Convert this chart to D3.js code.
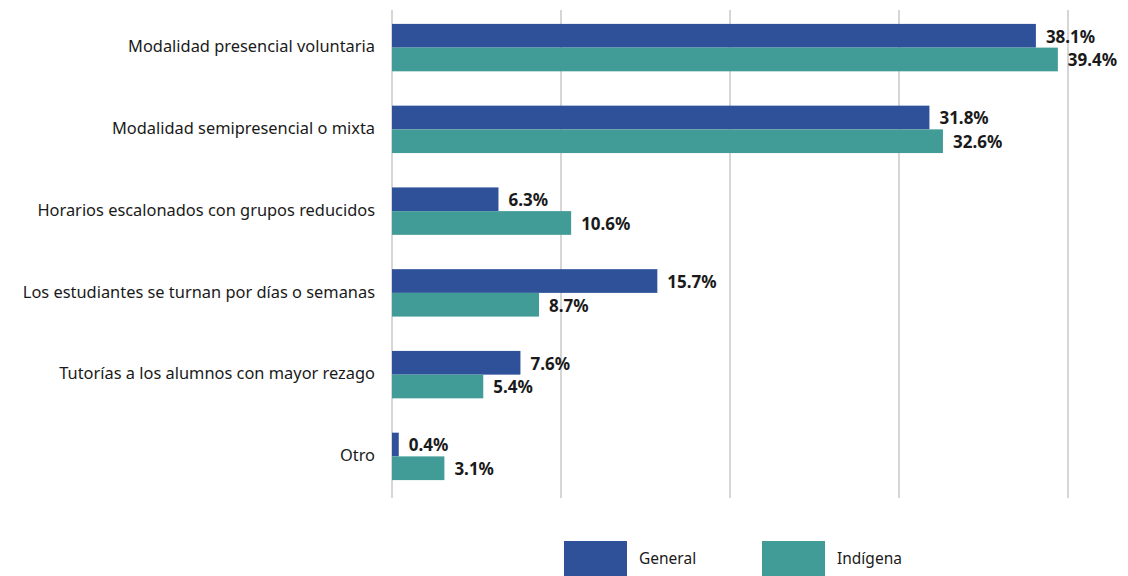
<!DOCTYPE html>
<html><head><meta charset="utf-8">
<script src="https://cdn.jsdelivr.net/npm/d3@7"></script>
<style>body{margin:0;background:#fff;} svg{display:block;font-family:"Noto Sans",sans-serif;}</style>
</head><body>
<svg id="c" width="1128" height="576"></svg>
<script>
const categories = ["Modalidad presencial voluntaria","Modalidad semipresencial o mixta","Horarios escalonados con grupos reducidos","Los estudiantes se turnan por días o semanas","Tutorías a los alumnos con mayor rezago","Otro"];
const seriesNames = ["General","Indígena"];
const general = [38.1, 31.8, 6.3, 15.7, 7.6, 0.4];
const indigena = [39.4, 32.6, 10.6, 8.7, 5.4, 3.1];
const xTicks = [0, 10, 20, 30, 40];
const colors = ["#2E5199", "#419B97"];

const svg = d3.select("#c");
const x = d3.scaleLinear().domain([0, 40]).range([392, 1068]);
const y = d3.scaleBand().domain(categories).range([10, 494]).paddingInner(0.42).paddingOuter(0.17);
const y1 = d3.scaleBand().domain(seriesNames).range([0, y.bandwidth()]);

// gridlines
svg.append("g").selectAll("line").data(xTicks).join("line")
  .attr("x1", d => x(d)).attr("x2", d => x(d)).attr("y1", 10).attr("y2", 498)
  .attr("stroke", "#c9c9c9").attr("stroke-width", 1.5);

const data = categories.map((c, i) => ({cat: c, vals: [general[i], indigena[i]]}));
const g = svg.append("g").selectAll("g").data(data).join("g")
  .attr("transform", d => `translate(0,${y(d.cat)})`);

g.selectAll("rect").data(d => d.vals.map((v, j) => ({v, s: seriesNames[j], j}))).join("rect")
  .attr("x", x(0)).attr("y", d => y1(d.s)).attr("width", d => x(d.v) - x(0))
  .attr("height", y1.bandwidth()).attr("fill", d => colors[d.j]);

g.selectAll("text.v").data(d => d.vals.map((v, j) => ({v, s: seriesNames[j], j}))).join("text")
  .attr("class", "v")
  .attr("x", d => x(d.v) + 10).attr("y", d => y1(d.s) + y1.bandwidth() / 2 + 1)
  .attr("dy", "0.35em").attr("font-size", 17).attr("font-weight", "bold").attr("fill", "#1a1a1a")
  .text(d => d.v.toFixed(1) + "%");

// category labels
svg.append("g").selectAll("text").data(categories).join("text")
  .attr("x", 375).attr("y", d => y(d) + y.bandwidth() / 2 - 1)
  .attr("dy", "0.35em").attr("text-anchor", "end").attr("font-size", 16.4).attr("fill", "#1a1a1a")
  .text(d => d);

// legend
const lx = [564, 762];
const lg = svg.append("g").selectAll("g").data(seriesNames).join("g")
  .attr("transform", (d, i) => `translate(${lx[i]},541)`);
lg.append("rect").attr("width", 63).attr("height", 35).attr("fill", (d, i) => colors[i]);
lg.append("text").attr("x", 75).attr("y", 18).attr("dy", "0.35em").attr("font-size", 15.5).attr("fill", "#1a1a1a").text(d => d);
</script>
</body></html>
